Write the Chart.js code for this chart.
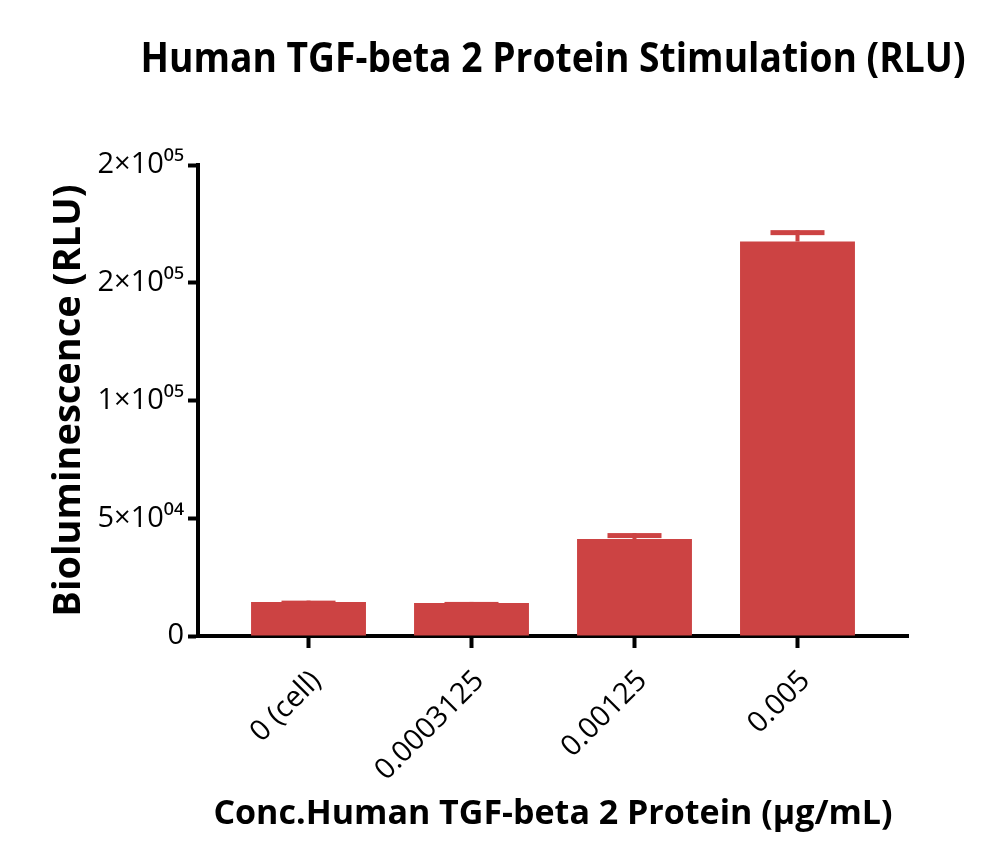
<!DOCTYPE html>
<html lang="en"><head><meta charset="utf-8">
<title>Human TGF-beta 2 Protein Stimulation</title>
<script src="https://cdn.jsdelivr.net/npm/chart.js@4.4.0/dist/chart.umd.min.js"></script>
<style>
  html, body { margin: 0; padding: 0; background: #fff; }
  #wrap { width: 1000px; height: 867px; }
</style>
</head>
<body>
<div id="wrap"><canvas id="chart"></canvas></div>
<script>
// data
const categories = ['0 (cell)', '0.0003125', '0.00125', '0.005'];
const meanRLU = [14470, 14040, 41150, 167500];
const errRLU = [550, 430, 2550, 4840];
const yTickValues = [0, 50000, 100000, 150000, 200000];
const yTickLabels = ['0', '5×10⁰⁴', '1×10⁰⁵', '2×10⁰⁵', '2×10⁰⁵'];
const chartTitle = 'Human TGF-beta 2 Protein Stimulation (RLU)';

const RED = '#cc4343';
const FONT = "'Open Sans', sans-serif";

// error bars (mean + SD, upper only)
const errorBars = {
  id: 'errorBars',
  afterDatasetsDraw(chart) {
    const { ctx, scales: { x, y } } = chart;
    ctx.save();
    ctx.strokeStyle = RED;
    ctx.fillStyle = RED;
    meanRLU.forEach((m, i) => {
      const cx = x.getPixelForValue(i);
      const yTop = y.getPixelForValue(m + errRLU[i]);
      const yBar = y.getPixelForValue(m);
      ctx.lineWidth = 4;
      ctx.beginPath();
      ctx.moveTo(cx, yBar);
      ctx.lineTo(cx, yTop);
      ctx.stroke();
      ctx.fillRect(cx - 27, yTop, 54, 5);
    });
    ctx.restore();
  }
};

// title sits a bit wider than the plot, so draw it here (narrowed like the original)
const wideTitle = {
  id: 'wideTitle',
  afterDraw(chart) {
    const { ctx, chartArea } = chart;
    ctx.save();
    ctx.fillStyle = '#000';
    ctx.font = `bold 42px ${FONT}`;
    ctx.textAlign = 'center';
    ctx.textBaseline = 'middle';
    const cx = (chartArea.left + chartArea.right) / 2;
    ctx.fillText(chartTitle, cx, 60, 825);
    ctx.restore();
  }
};

const ctx = document.getElementById('chart').getContext('2d');
new Chart(ctx, {
  type: 'bar',
  data: {
    datasets: [{
      data: meanRLU.map((v, i) => ({ x: i, y: v })),
      backgroundColor: RED,
      borderWidth: 0,
      barPercentage: 0.705,
      categoryPercentage: 1
    }]
  },
  options: {
    responsive: true,
    maintainAspectRatio: false,
    animation: false,
    layout: { padding: { left: 0, right: 92, top: 165, bottom: 14 } },
    plugins: {
      legend: { display: false },
      tooltip: { enabled: false },
      title: { display: false }
    },
    scales: {
      x: {
        type: 'linear',
        offset: false,
        min: -0.678,
        max: 3.678,
        afterBuildTicks: (s) => { s.ticks = categories.map((c, i) => ({ value: i })); },
        afterFit: (s) => { s.height = 217; },
        grid: { display: true, offset: false, drawOnChartArea: false, drawTicks: true, tickLength: 12, tickWidth: 4, tickColor: '#000' },
        border: { display: true, color: '#000', width: 4 },
        ticks: {
          autoSkip: false,
          minRotation: 45,
          maxRotation: 45,
          color: '#000',
          padding: 16,
          labelOffset: 8,
          font: { family: FONT, size: 29 },
          callback: (v, i) => categories[i]
        },
        title: {
          display: true,
          text: 'Conc.Human TGF-beta 2 Protein (µg/mL)',
          color: '#000',
          font: { family: FONT, size: 34, weight: 'bold', lineHeight: 1.2 },
          padding: { top: 0, bottom: 18 }
        }
      },
      y: {
        min: 0,
        max: 200000,
        afterBuildTicks: (s) => { s.ticks = yTickValues.map(v => ({ value: v })); },
        afterFit: (s) => { s.width = 198; },
        grid: { display: true, drawOnChartArea: false, drawTicks: true, tickLength: 10, tickWidth: 4, tickColor: '#000' },
        border: { display: true, color: '#000', width: 4 },
        ticks: {
          color: '#000',
          padding: 4,
          font: { family: FONT, size: 29 },
          callback: (v, i) => yTickLabels[i]
        },
        title: {
          display: true,
          text: 'Bioluminescence (RLU)',
          color: '#000',
          font: { family: FONT, size: 38, weight: 'bold', lineHeight: 1.2 },
          padding: { top: 46, bottom: 0 }
        }
      }
    }
  },
  plugins: [errorBars, wideTitle]
});
</script>
</body></html>
